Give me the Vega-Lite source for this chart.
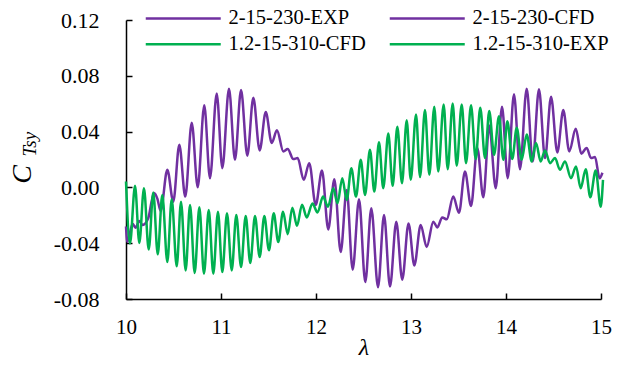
{
  "$schema": "https://vega.github.io/schema/vega-lite/v6.json",
  "width": 475,
  "height": 279,
  "autosize": {"type": "none"},
  "padding": {"left": 126, "top": 20, "right": 18, "bottom": 70},
  "background": "white",
  "config": {"view": {"stroke": null}, "font": "Liberation Serif, serif"},
  "datasets": {
    "curves": [
      {"series": "2-15-230-EXP", "lambda": 10.000, "CTsy": -0.028},
      {"series": "2-15-230-EXP", "lambda": 10.014, "CTsy": -0.039},
      {"series": "2-15-230-EXP", "lambda": 10.070, "CTsy": -0.026},
      {"series": "2-15-230-EXP", "lambda": 10.100, "CTsy": -0.029},
      {"series": "2-15-230-EXP", "lambda": 10.140, "CTsy": -0.024},
      {"series": "2-15-230-EXP", "lambda": 10.175, "CTsy": -0.027},
      {"series": "2-15-230-EXP", "lambda": 10.235, "CTsy": -0.022},
      {"series": "2-15-230-EXP", "lambda": 10.270, "CTsy": -0.010},
      {"series": "2-15-230-EXP", "lambda": 10.295, "CTsy": -0.004},
      {"series": "2-15-230-EXP", "lambda": 10.330, "CTsy": -0.008},
      {"series": "2-15-230-EXP", "lambda": 10.365, "CTsy": -0.017},
      {"series": "2-15-230-EXP", "lambda": 10.435, "CTsy": 0.0126},
      {"series": "2-15-230-EXP", "lambda": 10.498, "CTsy": -0.0102},
      {"series": "2-15-230-EXP", "lambda": 10.561, "CTsy": 0.0306},
      {"series": "2-15-230-EXP", "lambda": 10.624, "CTsy": -0.0066},
      {"series": "2-15-230-EXP", "lambda": 10.692, "CTsy": 0.0463},
      {"series": "2-15-230-EXP", "lambda": 10.755, "CTsy": 0.0001},
      {"series": "2-15-230-EXP", "lambda": 10.824, "CTsy": 0.0588},
      {"series": "2-15-230-EXP", "lambda": 10.884, "CTsy": 0.0066},
      {"series": "2-15-230-EXP", "lambda": 10.955, "CTsy": 0.0674},
      {"series": "2-15-230-EXP", "lambda": 11.014, "CTsy": 0.0138},
      {"series": "2-15-230-EXP", "lambda": 11.084, "CTsy": 0.0708},
      {"series": "2-15-230-EXP", "lambda": 11.147, "CTsy": 0.0198},
      {"series": "2-15-230-EXP", "lambda": 11.211, "CTsy": 0.0698},
      {"series": "2-15-230-EXP", "lambda": 11.277, "CTsy": 0.0227},
      {"series": "2-15-230-EXP", "lambda": 11.340, "CTsy": 0.0643},
      {"series": "2-15-230-EXP", "lambda": 11.407, "CTsy": 0.0265},
      {"series": "2-15-230-EXP", "lambda": 11.471, "CTsy": 0.054},
      {"series": "2-15-230-EXP", "lambda": 11.534, "CTsy": 0.0319},
      {"series": "2-15-230-EXP", "lambda": 11.589, "CTsy": 0.041},
      {"series": "2-15-230-EXP", "lambda": 11.656, "CTsy": 0.0258},
      {"series": "2-15-230-EXP", "lambda": 11.702, "CTsy": 0.0275},
      {"series": "2-15-230-EXP", "lambda": 11.761, "CTsy": 0.0203},
      {"series": "2-15-230-EXP", "lambda": 11.807, "CTsy": 0.021},
      {"series": "2-15-230-EXP", "lambda": 11.871, "CTsy": 0.0054},
      {"series": "2-15-230-EXP", "lambda": 11.929, "CTsy": 0.0174},
      {"series": "2-15-230-EXP", "lambda": 11.997, "CTsy": -0.0126},
      {"series": "2-15-230-EXP", "lambda": 12.063, "CTsy": 0.0121},
      {"series": "2-15-230-EXP", "lambda": 12.129, "CTsy": -0.0301},
      {"series": "2-15-230-EXP", "lambda": 12.193, "CTsy": 0.0059},
      {"series": "2-15-230-EXP", "lambda": 12.260, "CTsy": -0.0463},
      {"series": "2-15-230-EXP", "lambda": 12.323, "CTsy": -0.0018},
      {"series": "2-15-230-EXP", "lambda": 12.386, "CTsy": -0.059},
      {"series": "2-15-230-EXP", "lambda": 12.453, "CTsy": -0.0085},
      {"series": "2-15-230-EXP", "lambda": 12.519, "CTsy": -0.0679},
      {"series": "2-15-230-EXP", "lambda": 12.582, "CTsy": -0.015},
      {"series": "2-15-230-EXP", "lambda": 12.653, "CTsy": -0.0715},
      {"series": "2-15-230-EXP", "lambda": 12.716, "CTsy": -0.0198},
      {"series": "2-15-230-EXP", "lambda": 12.779, "CTsy": -0.071},
      {"series": "2-15-230-EXP", "lambda": 12.845, "CTsy": -0.0246},
      {"series": "2-15-230-EXP", "lambda": 12.908, "CTsy": -0.0662},
      {"series": "2-15-230-EXP", "lambda": 12.974, "CTsy": -0.0258},
      {"series": "2-15-230-EXP", "lambda": 13.035, "CTsy": -0.0559},
      {"series": "2-15-230-EXP", "lambda": 13.102, "CTsy": -0.027},
      {"series": "2-15-230-EXP", "lambda": 13.165, "CTsy": -0.0427},
      {"series": "2-15-230-EXP", "lambda": 13.235, "CTsy": -0.0246},
      {"series": "2-15-230-EXP", "lambda": 13.277, "CTsy": -0.0287},
      {"series": "2-15-230-EXP", "lambda": 13.329, "CTsy": -0.0215},
      {"series": "2-15-230-EXP", "lambda": 13.376, "CTsy": -0.0229},
      {"series": "2-15-230-EXP", "lambda": 13.445, "CTsy": -0.0066},
      {"series": "2-15-230-EXP", "lambda": 13.505, "CTsy": -0.0182},
      {"series": "2-15-230-EXP", "lambda": 13.568, "CTsy": 0.0114},
      {"series": "2-15-230-EXP", "lambda": 13.632, "CTsy": -0.0133},
      {"series": "2-15-230-EXP", "lambda": 13.698, "CTsy": 0.0283},
      {"series": "2-15-230-EXP", "lambda": 13.761, "CTsy": -0.0071},
      {"series": "2-15-230-EXP", "lambda": 13.824, "CTsy": 0.0443},
      {"series": "2-15-230-EXP", "lambda": 13.892, "CTsy": -0.0006},
      {"series": "2-15-230-EXP", "lambda": 13.958, "CTsy": 0.0578},
      {"series": "2-15-230-EXP", "lambda": 14.018, "CTsy": 0.0066},
      {"series": "2-15-230-EXP", "lambda": 14.084, "CTsy": 0.0667},
      {"series": "2-15-230-EXP", "lambda": 14.147, "CTsy": 0.0131},
      {"series": "2-15-230-EXP", "lambda": 14.218, "CTsy": 0.0708},
      {"series": "2-15-230-EXP", "lambda": 14.281, "CTsy": 0.0186},
      {"series": "2-15-230-EXP", "lambda": 14.347, "CTsy": 0.0703},
      {"series": "2-15-230-EXP", "lambda": 14.411, "CTsy": 0.021},
      {"series": "2-15-230-EXP", "lambda": 14.474, "CTsy": 0.065},
      {"series": "2-15-230-EXP", "lambda": 14.540, "CTsy": 0.0251},
      {"series": "2-15-230-EXP", "lambda": 14.603, "CTsy": 0.0554},
      {"series": "2-15-230-EXP", "lambda": 14.666, "CTsy": 0.0258},
      {"series": "2-15-230-EXP", "lambda": 14.734, "CTsy": 0.042},
      {"series": "2-15-230-EXP", "lambda": 14.793, "CTsy": 0.0242},
      {"series": "2-15-230-EXP", "lambda": 14.849, "CTsy": 0.0283},
      {"series": "2-15-230-EXP", "lambda": 14.895, "CTsy": 0.021},
      {"series": "2-15-230-EXP", "lambda": 14.937, "CTsy": 0.0218},
      {"series": "2-15-230-EXP", "lambda": 14.985, "CTsy": 0.0066},
      {"series": "2-15-230-EXP", "lambda": 15.015, "CTsy": 0.0105},
      {"series": "1.2-15-310-EXP", "lambda": 10.000, "CTsy": 0.0042},
      {"series": "1.2-15-310-EXP", "lambda": 10.042, "CTsy": -0.0402},
      {"series": "1.2-15-310-EXP", "lambda": 10.095, "CTsy": 0.0011},
      {"series": "1.2-15-310-EXP", "lambda": 10.140, "CTsy": -0.0398},
      {"series": "1.2-15-310-EXP", "lambda": 10.189, "CTsy": -0.0006},
      {"series": "1.2-15-310-EXP", "lambda": 10.239, "CTsy": -0.0446},
      {"series": "1.2-15-310-EXP", "lambda": 10.287, "CTsy": -0.0037},
      {"series": "1.2-15-310-EXP", "lambda": 10.334, "CTsy": -0.048},
      {"series": "1.2-15-310-EXP", "lambda": 10.382, "CTsy": -0.0054},
      {"series": "1.2-15-310-EXP", "lambda": 10.435, "CTsy": -0.0535},
      {"series": "1.2-15-310-EXP", "lambda": 10.481, "CTsy": -0.0085},
      {"series": "1.2-15-310-EXP", "lambda": 10.534, "CTsy": -0.0566},
      {"series": "1.2-15-310-EXP", "lambda": 10.579, "CTsy": -0.0102},
      {"series": "1.2-15-310-EXP", "lambda": 10.628, "CTsy": -0.0595},
      {"series": "1.2-15-310-EXP", "lambda": 10.674, "CTsy": -0.0126},
      {"series": "1.2-15-310-EXP", "lambda": 10.723, "CTsy": -0.0614},
      {"series": "1.2-15-310-EXP", "lambda": 10.772, "CTsy": -0.0143},
      {"series": "1.2-15-310-EXP", "lambda": 10.821, "CTsy": -0.0619},
      {"series": "1.2-15-310-EXP", "lambda": 10.871, "CTsy": -0.0162},
      {"series": "1.2-15-310-EXP", "lambda": 10.919, "CTsy": -0.0619},
      {"series": "1.2-15-310-EXP", "lambda": 10.968, "CTsy": -0.0174},
      {"series": "1.2-15-310-EXP", "lambda": 11.014, "CTsy": -0.0607},
      {"series": "1.2-15-310-EXP", "lambda": 11.063, "CTsy": -0.0186},
      {"series": "1.2-15-310-EXP", "lambda": 11.113, "CTsy": -0.0595},
      {"series": "1.2-15-310-EXP", "lambda": 11.161, "CTsy": -0.0198},
      {"series": "1.2-15-310-EXP", "lambda": 11.211, "CTsy": -0.0571},
      {"series": "1.2-15-310-EXP", "lambda": 11.260, "CTsy": -0.0205},
      {"series": "1.2-15-310-EXP", "lambda": 11.308, "CTsy": -0.0542},
      {"series": "1.2-15-310-EXP", "lambda": 11.358, "CTsy": -0.0205},
      {"series": "1.2-15-310-EXP", "lambda": 11.407, "CTsy": -0.0499},
      {"series": "1.2-15-310-EXP", "lambda": 11.456, "CTsy": -0.0205},
      {"series": "1.2-15-310-EXP", "lambda": 11.505, "CTsy": -0.0451},
      {"series": "1.2-15-310-EXP", "lambda": 11.555, "CTsy": -0.0186},
      {"series": "1.2-15-310-EXP", "lambda": 11.603, "CTsy": -0.0391},
      {"series": "1.2-15-310-EXP", "lambda": 11.653, "CTsy": -0.0174},
      {"series": "1.2-15-310-EXP", "lambda": 11.702, "CTsy": -0.0335},
      {"series": "1.2-15-310-EXP", "lambda": 11.751, "CTsy": -0.0145},
      {"series": "1.2-15-310-EXP", "lambda": 11.800, "CTsy": -0.0275},
      {"series": "1.2-15-310-EXP", "lambda": 11.853, "CTsy": -0.0125},
      {"series": "1.2-15-310-EXP", "lambda": 11.903, "CTsy": -0.0215},
      {"series": "1.2-15-310-EXP", "lambda": 11.963, "CTsy": -0.0115},
      {"series": "1.2-15-310-EXP", "lambda": 12.016, "CTsy": -0.018},
      {"series": "1.2-15-310-EXP", "lambda": 12.074, "CTsy": -0.0066},
      {"series": "1.2-15-310-EXP", "lambda": 12.126, "CTsy": -0.0138},
      {"series": "1.2-15-310-EXP", "lambda": 12.182, "CTsy": -0.0006},
      {"series": "1.2-15-310-EXP", "lambda": 12.226, "CTsy": -0.0114},
      {"series": "1.2-15-310-EXP", "lambda": 12.277, "CTsy": 0.0066},
      {"series": "1.2-15-310-EXP", "lambda": 12.323, "CTsy": -0.009},
      {"series": "1.2-15-310-EXP", "lambda": 12.372, "CTsy": 0.0138},
      {"series": "1.2-15-310-EXP", "lambda": 12.421, "CTsy": -0.0066},
      {"series": "1.2-15-310-EXP", "lambda": 12.471, "CTsy": 0.0198},
      {"series": "1.2-15-310-EXP", "lambda": 12.516, "CTsy": -0.0054},
      {"series": "1.2-15-310-EXP", "lambda": 12.568, "CTsy": 0.027},
      {"series": "1.2-15-310-EXP", "lambda": 12.614, "CTsy": -0.003},
      {"series": "1.2-15-310-EXP", "lambda": 12.663, "CTsy": 0.0323},
      {"series": "1.2-15-310-EXP", "lambda": 12.708, "CTsy": -0.0006},
      {"series": "1.2-15-310-EXP", "lambda": 12.761, "CTsy": 0.0386},
      {"series": "1.2-15-310-EXP", "lambda": 12.807, "CTsy": 0.0011},
      {"series": "1.2-15-310-EXP", "lambda": 12.856, "CTsy": 0.0434},
      {"series": "1.2-15-310-EXP", "lambda": 12.905, "CTsy": 0.003},
      {"series": "1.2-15-310-EXP", "lambda": 12.955, "CTsy": 0.0482},
      {"series": "1.2-15-310-EXP", "lambda": 12.997, "CTsy": 0.0054},
      {"series": "1.2-15-310-EXP", "lambda": 13.053, "CTsy": 0.0523},
      {"series": "1.2-15-310-EXP", "lambda": 13.095, "CTsy": 0.0074},
      {"series": "1.2-15-310-EXP", "lambda": 13.147, "CTsy": 0.0554},
      {"series": "1.2-15-310-EXP", "lambda": 13.193, "CTsy": 0.009},
      {"series": "1.2-15-310-EXP", "lambda": 13.245, "CTsy": 0.0578},
      {"series": "1.2-15-310-EXP", "lambda": 13.287, "CTsy": 0.0114},
      {"series": "1.2-15-310-EXP", "lambda": 13.344, "CTsy": 0.0595},
      {"series": "1.2-15-310-EXP", "lambda": 13.386, "CTsy": 0.0131},
      {"series": "1.2-15-310-EXP", "lambda": 13.439, "CTsy": 0.0602},
      {"series": "1.2-15-310-EXP", "lambda": 13.481, "CTsy": 0.0155},
      {"series": "1.2-15-310-EXP", "lambda": 13.534, "CTsy": 0.0595},
      {"series": "1.2-15-310-EXP", "lambda": 13.579, "CTsy": 0.0174},
      {"series": "1.2-15-310-EXP", "lambda": 13.632, "CTsy": 0.0588},
      {"series": "1.2-15-310-EXP", "lambda": 13.681, "CTsy": 0.0203},
      {"series": "1.2-15-310-EXP", "lambda": 13.729, "CTsy": 0.0571},
      {"series": "1.2-15-310-EXP", "lambda": 13.779, "CTsy": 0.021},
      {"series": "1.2-15-310-EXP", "lambda": 13.824, "CTsy": 0.0547},
      {"series": "1.2-15-310-EXP", "lambda": 13.874, "CTsy": 0.0234},
      {"series": "1.2-15-310-EXP", "lambda": 13.926, "CTsy": 0.051},
      {"series": "1.2-15-310-EXP", "lambda": 13.972, "CTsy": 0.0198},
      {"series": "1.2-15-310-EXP", "lambda": 14.014, "CTsy": 0.0474},
      {"series": "1.2-15-310-EXP", "lambda": 14.066, "CTsy": 0.0203},
      {"series": "1.2-15-310-EXP", "lambda": 14.113, "CTsy": 0.0427},
      {"series": "1.2-15-310-EXP", "lambda": 14.165, "CTsy": 0.0198},
      {"series": "1.2-15-310-EXP", "lambda": 14.218, "CTsy": 0.0379},
      {"series": "1.2-15-310-EXP", "lambda": 14.271, "CTsy": 0.0186},
      {"series": "1.2-15-310-EXP", "lambda": 14.316, "CTsy": 0.0319},
      {"series": "1.2-15-310-EXP", "lambda": 14.365, "CTsy": 0.0186},
      {"series": "1.2-15-310-EXP", "lambda": 14.411, "CTsy": 0.0265},
      {"series": "1.2-15-310-EXP", "lambda": 14.463, "CTsy": 0.0174},
      {"series": "1.2-15-310-EXP", "lambda": 14.516, "CTsy": 0.021},
      {"series": "1.2-15-310-EXP", "lambda": 14.568, "CTsy": 0.0126},
      {"series": "1.2-15-310-EXP", "lambda": 14.621, "CTsy": 0.0186},
      {"series": "1.2-15-310-EXP", "lambda": 14.684, "CTsy": 0.0066},
      {"series": "1.2-15-310-EXP", "lambda": 14.737, "CTsy": 0.015},
      {"series": "1.2-15-310-EXP", "lambda": 14.786, "CTsy": -0.0006},
      {"series": "1.2-15-310-EXP", "lambda": 14.839, "CTsy": 0.0131},
      {"series": "1.2-15-310-EXP", "lambda": 14.887, "CTsy": -0.0071},
      {"series": "1.2-15-310-EXP", "lambda": 14.944, "CTsy": 0.0121},
      {"series": "1.2-15-310-EXP", "lambda": 14.997, "CTsy": -0.0138},
      {"series": "1.2-15-310-EXP", "lambda": 15.021, "CTsy": 0.0054}
    ],
    "subscript": [{"label": "Tsy"}]
  },
  "layer": [
    {
      "data": {"name": "curves"},
      "mark": {"type": "line", "interpolate": "monotone", "strokeWidth": 2.5, "clip": false},
      "encoding": {
        "x": {
          "field": "lambda", "type": "quantitative",
          "scale": {"domain": [10, 15], "nice": false, "zero": false},
          "axis": {
            "values": [10, 11, 12, 13, 14, 15], "format": "d", "labelFlush": false,
            "title": "λ", "titleFont": "Liberation Serif, serif", "titleFontStyle": "italic", "titleFontWeight": "normal", "titleFontSize": 24, "titleColor": "black", "titlePadding": -2,
            "labelFont": "Liberation Serif, serif", "labelFontSize": 21, "labelColor": "black", "labelPadding": 23,
            "tickSize": -6, "tickColor": "black", "tickWidth": 1.5,
            "domainColor": "black", "domainWidth": 1.5, "grid": false
          }
        },
        "y": {
          "field": "CTsy", "type": "quantitative",
          "scale": {"domain": [-0.08, 0.12], "nice": false, "zero": false},
          "axis": {
            "values": [-0.08, -0.04, 0, 0.04, 0.08, 0.12], "labelFlush": false,
            "labelExpr": "replace(format(datum.value, '.2f'), '\u2212', '-')",
            "title": "C", "titleFont": "Liberation Serif, serif", "titleFontStyle": "italic", "titleFontWeight": "normal", "titleFontSize": 28, "titleColor": "black",
            "titleAngle": 270, "titleAlign": "center", "titleBaseline": "middle", "titleX": -104, "titleY": 154,
            "labelFont": "Liberation Serif, serif", "labelFontSize": 22, "labelColor": "black", "labelPadding": 33,
            "tickSize": -6, "tickColor": "black", "tickWidth": 1.5,
            "domainColor": "black", "domainWidth": 1.5, "grid": false
          }
        },
        "color": {
          "field": "series", "type": "nominal",
          "scale": {
            "domain": ["2-15-230-EXP", "2-15-230-CFD", "1.2-15-310-CFD", "1.2-15-310-EXP"],
            "range": ["#7030A0", "#7030A0", "#00B050", "#00B050"]
          },
          "legend": {
            "orient": "none", "legendX": 47, "legendY": -12, "columns": 2, "direction": "horizontal", "title": null,
            "symbolType": "M-5,0H5", "symbolSize": 225, "symbolStrokeWidth": 2.5, "symbolFillColor": "transparent",
            "labelFont": "Liberation Serif, serif", "labelFontSize": 20.5, "labelColor": "black", "labelOffset": 35, "labelLimit": 400,
            "columnPadding": 18, "rowPadding": 5, "padding": 0
          }
        }
      }
    },
    {
      "data": {"name": "subscript"},
      "mark": {"type": "text", "angle": 270, "font": "Liberation Serif, serif", "fontStyle": "italic", "fontSize": 19, "align": "center", "baseline": "middle", "color": "black"},
      "encoding": {
        "x": {"datum": 8.99},
        "y": {"datum": 0.031},
        "text": {"field": "label"}
      }
    }
  ]
}
